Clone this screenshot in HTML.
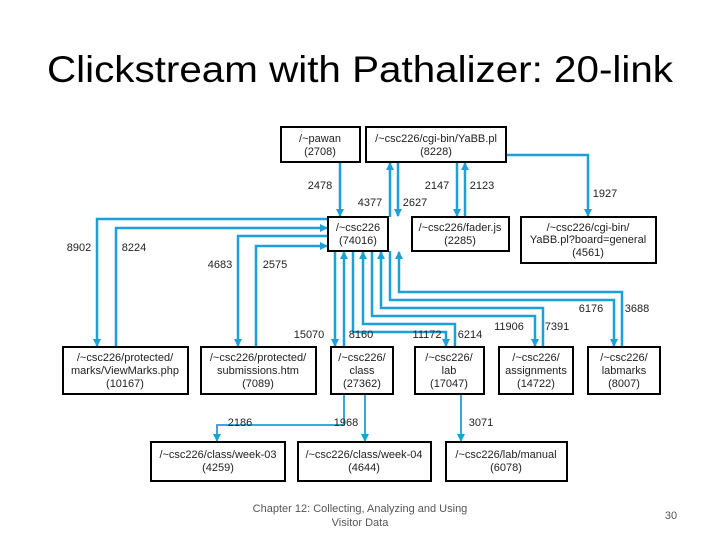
<!DOCTYPE html>
<html><head><meta charset="utf-8"><style>
html,body{margin:0;padding:0;background:#fff;width:720px;height:540px;overflow:hidden}
</style></head><body>
<svg width="720" height="540" viewBox="0 0 720 540" xmlns="http://www.w3.org/2000/svg" font-family="Liberation Sans, sans-serif">
<defs>
<marker id="a" markerWidth="8" markerHeight="8" refX="7" refY="4" orient="auto" markerUnits="userSpaceOnUse">
<path d="M0,0 L8,4 L0,8 Z" fill="#1ba1d8"/></marker>
</defs>
<text x="360" y="82" text-anchor="middle" font-size="37" textLength="626" lengthAdjust="spacingAndGlyphs" fill="#000">Clickstream with Pathalizer: 20-link</text>
<g fill="none" stroke="#1ba1d8" stroke-width="2.5" marker-end="url(#a)">
<path d="M340,162 V216"/>
<path d="M390,217 V163"/>
<path d="M398,162 V216"/>
<path d="M457,162 V216"/>
<path d="M465,217 V163"/>
<path d="M506,155 H588 V216"/>
<path d="M328,219 H97 V346"/>
<path d="M116,347 V228 H327"/>
<path d="M328,236 H238 V346"/>
<path d="M256,347 V246 H327"/>
<path d="M335,251 V346"/>
<path d="M344,347 V252"/>
<path d="M353,251 V332 H446 V346"/>
<path d="M455,347 V324 H363 V252"/>
<path d="M372,251 V316 H535 V346"/>
<path d="M543,347 V308 H381 V252"/>
<path d="M390,251 V300 H614 V346"/>
<path d="M622,347 V292 H399 V252"/>
</g>
<g fill="none" stroke="#1ba1d8" stroke-width="1.8" marker-end="url(#a)">
<path d="M344,394 V425 H217 V441"/>
<path d="M365,394 V441"/>
<path d="M461,394 V441"/>
</g>
<g fill="#fff" stroke="#000" stroke-width="2">
<rect x="281" y="127" width="79" height="35"/>
<rect x="366" y="127" width="140" height="35"/>
<rect x="328" y="217" width="60" height="34"/>
<rect x="412" y="217" width="97" height="34"/>
<rect x="521" y="217" width="135" height="46"/>
<rect x="63" y="347" width="125" height="47"/>
<rect x="201" y="347" width="115" height="47"/>
<rect x="331" y="347" width="62" height="47"/>
<rect x="415" y="347" width="69" height="47"/>
<rect x="499" y="347" width="74" height="47"/>
<rect x="588" y="347" width="72" height="47"/>
<rect x="151" y="442" width="134" height="39"/>
<rect x="298" y="442" width="133" height="39"/>
<rect x="446" y="442" width="121" height="39"/>
</g>
<g font-size="11" fill="#222" text-anchor="middle">
<text x="320" y="142">/~pawan</text><text x="320" y="155">(2708)</text>
<text x="436" y="142">/~csc226/cgi-bin/YaBB.pl</text><text x="436" y="155">(8228)</text>
<text x="358" y="231">/~csc226</text><text x="358" y="244">(74016)</text>
<text x="460" y="231">/~csc226/fader.js</text><text x="460" y="244">(2285)</text>
<text x="588" y="231">/~csc226/cgi-bin/</text><text x="588" y="243">YaBB.pl?board=general</text><text x="588" y="256">(4561)</text>
<text x="125" y="361">/~csc226/protected/</text><text x="125" y="374">marks/ViewMarks.php</text><text x="125" y="387">(10167)</text>
<text x="258" y="361">/~csc226/protected/</text><text x="258" y="374">submissions.htm</text><text x="258" y="387">(7089)</text>
<text x="362" y="361">/~csc226/</text><text x="362" y="374">class</text><text x="362" y="387">(27362)</text>
<text x="449" y="361">/~csc226/</text><text x="449" y="374">lab</text><text x="449" y="387">(17047)</text>
<text x="536" y="361">/~csc226/</text><text x="536" y="374">assignments</text><text x="536" y="387">(14722)</text>
<text x="624" y="361">/~csc226/</text><text x="624" y="374">labmarks</text><text x="624" y="387">(8007)</text>
<text x="218" y="458">/~csc226/class/week-03</text><text x="218" y="471">(4259)</text>
<text x="364" y="458">/~csc226/class/week-04</text><text x="364" y="471">(4644)</text>
<text x="506" y="458">/~csc226/lab/manual</text><text x="506" y="471">(6078)</text>
</g>
<g font-size="11" fill="#222" text-anchor="middle">
<text x="320" y="189">2478</text>
<text x="370" y="206">4377</text><text x="415" y="206">2627</text>
<text x="437" y="189">2147</text><text x="482" y="189">2123</text>
<text x="605" y="197">1927</text>
<text x="79" y="251">8902</text><text x="134" y="251">8224</text>
<text x="220" y="268">4683</text><text x="275" y="268">2575</text>
<text x="591" y="312">6176</text><text x="637" y="312">3688</text>
<text x="509" y="330">11906</text><text x="557" y="330">7391</text>
<text x="309" y="338">15070</text><text x="361" y="338">8160</text>
<text x="427" y="338">11172</text><text x="470" y="338">6214</text>
<text x="240" y="426">2186</text><text x="346" y="426">1968</text><text x="481" y="426">3071</text>
</g>
<g font-size="11" fill="#555" text-anchor="middle">
<text x="360" y="512">Chapter 12: Collecting, Analyzing and Using</text>
<text x="360" y="526">Visitor Data</text>
<text x="671" y="519">30</text>
</g>
</svg>
</body></html>
